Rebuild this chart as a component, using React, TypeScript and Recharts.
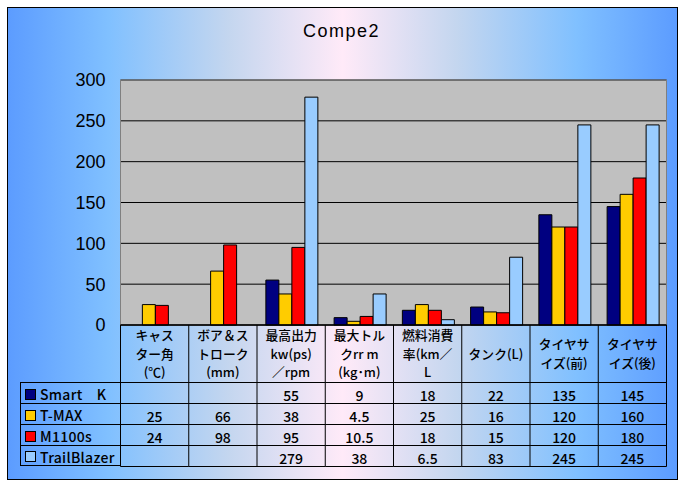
import React from "react";
import { BarChart, Bar, XAxis, YAxis, CartesianGrid, ReferenceArea, ReferenceLine, Legend } from "recharts";

const categoryLines: string[][] = [
  ["キャス", "ター角", "(℃)"],
  ["ボア＆ス", "トローク", "(mm)"],
  ["最高出力", "kw(ps)", "／rpm"],
  ["最大トル", "クrr m", "(kg･m)"],
  ["燃料消費", "率(km／", "L"],
  ["タンク(L)"],
  ["タイヤサ", "イズ(前)"],
  ["タイヤサ", "イズ(後)"],
];

const seriesNames = ["Smart　K", "T-MAX", "M1100s", "TrailBlazer"];
const seriesColors = ["#000080", "#ffcc00", "#ff0000", "#99ccff"];

const smartK: (number | null)[] = [null, null, 55, 9, 18, 22, 135, 145];
const tmax: (number | null)[] = [25, 66, 38, 4.5, 25, 16, 120, 160];
const m1100s: (number | null)[] = [24, 98, 95, 10.5, 18, 15, 120, 180];
const trailBlazer: (number | null)[] = [null, null, 279, 38, 6.5, 83, 245, 245];

const seriesValues = [smartK, tmax, m1100s, trailBlazer];
const yTicks = [0, 50, 100, 150, 200, 250, 300];

const data = categoryLines.map((lines, i) => ({
  name: lines.join(""),
  s0: smartK[i],
  s1: tmax[i],
  s2: m1100s[i],
  s3: trailBlazer[i],
}));

const W = 686;
const H = 487;
const PLOT_LEFT = 120.5;
const PLOT_RIGHT = 666.5;
const PLOT_TOP = 80;
const PLOT_BOTTOM = 325;
const HALF = (PLOT_RIGHT - PLOT_LEFT) / categoryLines.length / 2;
const ROW_TOP = 382.5;
const ROW_H = 21;
const TABLE_FONT = "'Noto Sans CJK JP', 'Liberation Sans', sans-serif";

function TableTick(props: any) {
  const { x, payload } = props;
  const index: number = payload?.index ?? props.index ?? 0;
  const lines = categoryLines[index] || [];
  const headerCenter = (PLOT_BOTTOM + ROW_TOP) / 2 - 0.5;
  const lineGap = 18.6;
  const firstY = headerCenter - ((lines.length - 1) * lineGap) / 2;
  const bottom = ROW_TOP + ROW_H * seriesValues.length;
  return (
    <g>
      {lines.map((l, k) => (
        <text
          key={k}
          x={x}
          y={firstY + k * lineGap}
          textAnchor="middle"
          dominantBaseline="central"
          fontSize={12.8}
          fontWeight={500}
          fontFamily={TABLE_FONT}
          fill="#000"
        >
          {l}
        </text>
      ))}
      {seriesValues.map((vals, s) => {
        const v = vals[index];
        return (
          <g key={s}>
            <line x1={x - HALF} x2={x + HALF} y1={ROW_TOP + s * ROW_H} y2={ROW_TOP + s * ROW_H} stroke="#000" strokeWidth={1} />
            {v !== null && v !== undefined ? (
              <text
                x={x}
                y={ROW_TOP + s * ROW_H + ROW_H / 2 + 1.5}
                textAnchor="middle"
                dominantBaseline="central"
                fontSize={14}
                fontWeight={500}
                fontFamily={TABLE_FONT}
                fill="#000"
              >
                {String(v)}
              </text>
            ) : null}
          </g>
        );
      })}
      <line x1={x - HALF} x2={x + HALF} y1={bottom} y2={bottom} stroke="#000" strokeWidth={1} />
      <line x1={x + HALF} x2={x + HALF} y1={PLOT_BOTTOM} y2={bottom} stroke="#000" strokeWidth={1} />
      {index === 0 ? (
        <line x1={x - HALF} x2={x - HALF} y1={PLOT_BOTTOM} y2={bottom} stroke="#000" strokeWidth={1} />
      ) : null}
    </g>
  );
}

function LegendColumn() {
  return (
    <div
      style={{
        width: 101,
        boxSizing: "border-box",
        borderLeft: "1px solid #000",
        fontFamily: TABLE_FONT,
      }}
    >
      {seriesNames.map((name, i) => (
        <div
          key={name}
          style={{
            height: ROW_H,
            boxSizing: "border-box",
            borderTop: "1px solid #000",
            borderBottom: i === seriesNames.length - 1 ? "1px solid #000" : undefined,
            display: "flex",
            alignItems: "center",
            paddingTop: 2,
          }}
        >
          <span
            style={{
              display: "inline-block",
              width: 9,
              height: 9,
              marginLeft: 4,
              marginRight: 4,
              background: seriesColors[i],
              border: "1px solid #000",
            }}
          />
          <span style={{ fontSize: 14, fontWeight: 500, color: "#000", whiteSpace: "nowrap", letterSpacing: 0.3 }}>
            {name}
          </span>
        </div>
      ))}
    </div>
  );
}

export default function App() {
  return (
    <div style={{ position: "absolute", left: 0, top: 0, width: W, height: H, background: "#fff" }}>
      <div
        style={{
          position: "absolute",
          left: 7,
          top: 7,
          width: 671,
          height: 473,
          boxSizing: "border-box",
          border: "1px solid #000",
          background:
            "linear-gradient(to right, #5c9cff 0%, #80c0ff 15%, #c4d6ef 33%, #ffeaf8 50%, #c4d6ef 67%, #80c0ff 85%, #5c9cff 100%)",
        }}
      />
      <div
        style={{
          position: "absolute",
          left: 0,
          top: 21,
          width: 683,
          textAlign: "center",
          fontFamily: "'Liberation Sans', Arial, sans-serif",
          fontSize: 18,
          letterSpacing: 1.5,
          color: "#000",
        }}
      >
        Compe2
      </div>
      <div style={{ position: "absolute", left: 0, top: 0 }}>
        <BarChart
          width={W}
          height={H}
          data={data}
          margin={{ top: PLOT_TOP, right: W - PLOT_RIGHT, left: PLOT_LEFT - 60, bottom: 20 }}
          barCategoryGap="13%"
          barGap={0}
        >
          <CartesianGrid vertical={false} stroke="#000" fill="#c0c0c0" fillOpacity={1} />
          <XAxis
            dataKey="name"
            interval={0}
            height={H - PLOT_BOTTOM - 20}
            tickLine={false}
            tickSize={0}
            axisLine={{ stroke: "#000" }}
            tick={<TableTick />}
          />
          <YAxis
            width={60}
            domain={[0, 300]}
            ticks={yTicks}
            tickLine={false}
            tickSize={0}
            tickMargin={15}
            axisLine={false}
            tick={{ fontSize: 18, fill: "#000", fontFamily: "'Liberation Sans', Arial, sans-serif" }}
          />
          <ReferenceArea y1={0} y2={300} fill="none" stroke="#808080" strokeWidth={1} ifOverflow="visible" />
          <ReferenceLine y={0} stroke="#000" />
          {seriesNames.map((n, i) => (
            <Bar
              key={n}
              dataKey={`s${i}`}
              name={n}
              fill={seriesColors[i]}
              stroke="#000"
              strokeWidth={1}
              isAnimationActive={false}
            />
          ))}
          <Legend
            layout="vertical"
            align="center"
            verticalAlign="middle"
            content={<LegendColumn />}
            wrapperStyle={{ left: 20, top: ROW_TOP - 0.5, width: 101 }}
          />
        </BarChart>
      </div>
    </div>
  );
}
